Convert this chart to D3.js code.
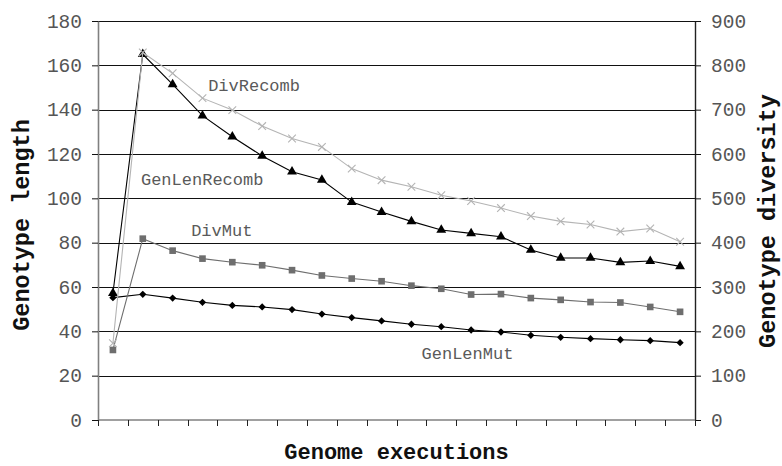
<!DOCTYPE html>
<html>
<head>
<meta charset="utf-8">
<script src="https://cdn.jsdelivr.net/npm/d3@7"></script>
<style>
  html, body { margin: 0; padding: 0; background: #fff; }
  svg { display: block; }
</style>
</head>
<body>
<svg id="chart" width="782" height="466"></svg>
<script>
// Genome execution steps (unlabelled categories on the x axis)
const categories = ["1","2","3","4","5","6","7","8","9","10","11","12","13","14","15","16","17","18","19","20"];

// Genotype length (left axis)
const genLenMut    = [55.2, 56.7, 55.0, 53.1, 51.7, 51.0, 49.8, 47.8, 46.2, 44.7, 43.2, 42.1, 40.6, 39.7, 38.2, 37.3, 36.7, 36.2, 35.8, 34.9];
const genLenRecomb = [57.2, 165.0, 151.4, 137.3, 127.8, 119.1, 112.0, 108.3, 98.3, 93.8, 89.6, 85.7, 84.2, 82.7, 76.7, 73.1, 73.1, 71.1, 71.7, 69.3];

// Genotype diversity (right axis)
const divMut    = [158, 409, 382, 364, 356, 349, 338, 326, 319, 313, 303, 296, 283, 284, 275, 271, 266, 265, 255, 244];
const divRecomb = [173, 829, 782, 726, 699, 663, 635, 616, 567, 541, 526, 507, 494, 478, 460, 448, 441, 425, 432, 402];

// Axis ticks
const leftTicks  = [0, 20, 40, 60, 80, 100, 120, 140, 160, 180];
const rightTicks = [0, 100, 200, 300, 400, 500, 600, 700, 800, 900];

// Series annotations: band offset along x, left-axis value at the text baseline
const seriesLabels = ["DivRecomb", "GenLenRecomb", "DivMut", "GenLenMut"];
const labelBand    = [3.69, 1.44, 3.12, 10.84];
const labelValue   = [148.4, 106.0, 82.8, 27.5];

const mono = "'Courier New', 'Liberation Mono', monospace";
const svg = d3.select("#chart");
const plot = { left: 98, right: 695, top: 21, bottom: 420 };

const x = d3.scaleBand().domain(categories).range([plot.left, plot.right]).padding(0);
const yL = d3.scaleLinear().domain([0, 180]).range([plot.bottom, plot.top]);
const yR = d3.scaleLinear().domain([0, 900]).range([plot.bottom, plot.top]);
const cx = d => x(d) + x.bandwidth() / 2;

// Horizontal gridlines
svg.append("g")
  .selectAll("line")
  .data(leftTicks.filter(v => v > 0))
  .join("line")
  .attr("x1", plot.left).attr("x2", plot.right)
  .attr("y1", d => Math.round(yL(d)) + 0.5).attr("y2", d => Math.round(yL(d)) + 0.5)
  .attr("stroke", "#111").attr("stroke-width", 1);

// Left axis
const axL = svg.append("g")
  .attr("transform", `translate(${plot.left},0)`)
  .call(d3.axisLeft(yL).tickValues(leftTicks).tickSize(6).tickPadding(10).tickSizeOuter(0));
axL.select(".domain").attr("stroke", "#808080").attr("stroke-width", 1.6);
axL.selectAll(".tick line").attr("stroke", "#111");

// Right axis
const axR = svg.append("g")
  .attr("transform", `translate(${plot.right},0)`)
  .call(d3.axisRight(yR).tickValues(rightTicks).tickSize(6).tickPadding(10).tickSizeOuter(0));
axR.select(".domain").attr("stroke", "#222").attr("stroke-width", 1.4);
axR.selectAll(".tick line").attr("stroke", "#111");

[axL, axR].forEach(ax => ax.selectAll(".tick text")
  .style("font-family", mono)
  .style("font-size", "19.5px")
  .attr("fill", "#555"));

// Bottom axis with ticks at the category boundaries
const boundaries = categories.map(c => x(c)).concat([plot.right]);
const axB = svg.append("g");
axB.append("line")
  .attr("x1", plot.left).attr("x2", plot.right)
  .attr("y1", plot.bottom).attr("y2", plot.bottom)
  .attr("stroke", "#808080").attr("stroke-width", 1.6);
axB.selectAll("line.tk")
  .data(boundaries)
  .join("line")
  .attr("class", "tk")
  .attr("x1", d => Math.round(d) + 0.5).attr("x2", d => Math.round(d) + 0.5)
  .attr("y1", plot.bottom).attr("y2", plot.bottom + 6)
  .attr("stroke", "#222").attr("stroke-width", 1);

// Axis titles
svg.append("text")
  .attr("transform", `translate(29,225) rotate(-90)`)
  .attr("text-anchor", "middle")
  .style("font-family", mono)
  .style("font-weight", "bold").style("font-size", "23.5px")
  .attr("fill", "#111")
  .text("Genotype length");

svg.append("text")
  .attr("transform", `translate(775,221) rotate(-90)`)
  .attr("text-anchor", "middle")
  .style("font-family", mono)
  .style("font-weight", "bold").style("font-size", "23.5px")
  .attr("fill", "#111")
  .text("Genotype diversity");

svg.append("text")
  .attr("x", 396.5).attr("y", 459)
  .attr("text-anchor", "middle")
  .style("font-family", mono)
  .style("font-weight", "bold").style("font-size", "22px")
  .attr("fill", "#111")
  .text("Genome executions");

// Series
const series = [
  { values: genLenMut,    y: yL, color: "#000",    marker: "diamond" },
  { values: genLenRecomb, y: yL, color: "#000",    marker: "triangle" },
  { values: divMut,       y: yR, color: "#6e6e6e", marker: "square" },
  { values: divRecomb,    y: yR, color: "#b4b4b4", marker: "cross" }
];

const markerPath = {
  diamond:  d3.symbol().type(d3.symbolDiamond2).size(34)(),
  triangle: d3.symbol().type(d3.symbolTriangle).size(42)(),
  square:   d3.symbol().type(d3.symbolSquare).size(44)(),
  cross:    d3.symbol().type(d3.symbolTimes).size(40)()
};

series.forEach(s => {
  const pts = categories.map((c, i) => [cx(c), s.y(s.values[i])]);
  svg.append("path")
    .datum(pts)
    .attr("d", d3.line())
    .attr("fill", "none")
    .attr("stroke", s.color)
    .attr("stroke-width", 1.1);
  svg.append("g")
    .selectAll("path")
    .data(pts)
    .join("path")
    .attr("transform", d => `translate(${d[0]},${d[1]})`)
    .attr("d", markerPath[s.marker])
    .attr("fill", s.marker === "cross" ? "none" : s.color)
    .attr("stroke", s.marker === "cross" ? s.color : "none")
    .attr("stroke-width", 1.1);
});

// Series annotations
svg.append("g")
  .selectAll("text")
  .data(seriesLabels)
  .join("text")
  .attr("x", (d, i) => plot.left + labelBand[i] * x.bandwidth())
  .attr("y", (d, i) => yL(labelValue[i]))
  .style("font-family", mono)
  .style("font-size", "17px")
  .attr("fill", "#5a5a5a")
  .text(d => d);
</script>
</body>
</html>
